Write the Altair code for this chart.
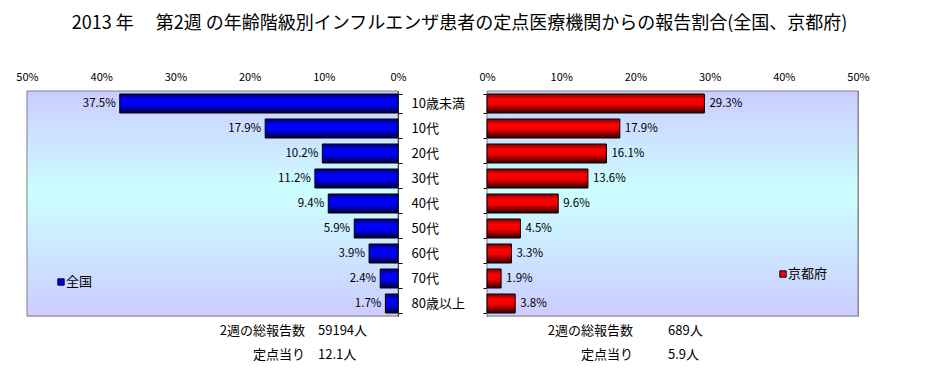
import altair as alt
import pandas as pd

categories = ["10歳未満", "10代", "20代", "30代", "40代", "50代", "60代", "70代", "80歳以上"]
national = [37.5, 17.9, 10.2, 11.2, 9.4, 5.9, 3.9, 2.4, 1.7]
kyoto = [29.3, 17.9, 16.1, 13.6, 9.6, 4.5, 3.3, 1.9, 3.8]
tick_values = [0, 10, 20, 30, 40, 50]

summary_labels = ["2週の総報告数", "定点当り"]
national_summary = ["59194人", "12.1人"]
kyoto_summary = ["689人", "5.9人"]
legend_national = "全国"
legend_kyoto = "京都府"
title_text = "2013 年　 第2週 の年齢階級別インフルエンザ患者の定点医療機関からの報告割合(全国、京都府)"

FONT = "Noto Sans CJK JP"
W, H = 371, 225

df_n = pd.DataFrame({"age": categories, "value": national})
df_k = pd.DataFrame({"age": categories, "value": kyoto})
one = pd.DataFrame({"k": [0]})

blue_grad = {
    "gradient": "linear", "x1": 0, "x2": 0, "y1": 0, "y2": 1,
    "stops": [
        {"offset": 0, "color": "#00006a"},
        {"offset": 0.3, "color": "#0000ff"},
        {"offset": 0.6, "color": "#0000f0"},
        {"offset": 1, "color": "#000030"},
    ],
}
red_grad = {
    "gradient": "linear", "x1": 0, "x2": 0, "y1": 0, "y2": 1,
    "stops": [
        {"offset": 0, "color": "#7a0000"},
        {"offset": 0.28, "color": "#ff0000"},
        {"offset": 0.55, "color": "#f00000"},
        {"offset": 1, "color": "#300000"},
    ],
}
bg_grad = {
    "gradient": "linear", "x1": 0, "x2": 0, "y1": 0, "y2": 1,
    "stops": [
        {"offset": 0, "color": "#ccccff"},
        {"offset": 0.45, "color": "#ccffff"},
        {"offset": 1, "color": "#ccccff"},
    ],
}

yscale = alt.Scale(domain=categories, paddingInner=0.24, paddingOuter=0.12)


def x_axis():
    return alt.Axis(
        orient="top", values=tick_values, labelExpr="datum.value + '%'",
        grid=True, gridColor="#999999", ticks=False, domainColor="black",
        labelFlush=False, labelPadding=9, title=None, labelFontSize=11,
        labelFont=FONT, labelColor="black",
    )


def panel(df, values_sum, legend_label, grad, left):
    base = alt.Chart(df).transform_calculate(
        label="format(datum.value, '.1f') + '%'"
    )
    if left:
        yaxis = alt.Axis(
            orient="right", title=None, tickBand="extent", tickSize=4,
            tickColor="black", domainColor="black", labelPadding=9,
            labelFontSize=13, labelFont=FONT, labelColor="black", grid=False,
        )
    else:
        yaxis = alt.Axis(
            orient="left", title=None, tickBand="extent", tickSize=4,
            tickColor="black", domainColor="black", labels=False, grid=False,
        )
    y = alt.Y("age:N", sort=categories, scale=yscale, axis=yaxis)
    x = alt.X("value:Q", scale=alt.Scale(domain=[0, 50], reverse=left, nice=False), axis=x_axis())

    bg = alt.Chart(one).mark_rect(fill=bg_grad, stroke="#808080", strokeWidth=1).encode(
        x=alt.value(0), x2=alt.value("width"), y=alt.value(0), y2=alt.value("height")
    )
    bars = base.mark_bar(fill=grad, stroke="black", strokeWidth=1).encode(x=x, y=y)
    labels = base.mark_text(
        align="right" if left else "left", dx=-4 if left else 5,
        fontSize=11.5, font=FONT, color="black",
    ).encode(x=x, y=y, text="label:N")

    lab_x = 278 if left else 146
    val_x = 291 if left else 181
    sum_labels = alt.Chart(one).mark_text(
        text=summary_labels, align="right", baseline="middle", fontSize=13,
        font=FONT, lineHeight=24, color="black",
    ).encode(x=alt.value(lab_x), y=alt.value(240))
    sum_values = alt.Chart(one).mark_text(
        text=values_sum, align="left", baseline="middle", fontSize=13,
        font=FONT, lineHeight=24, color="black",
    ).encode(x=alt.value(val_x), y=alt.value(240))

    sq_x = 34 if left else 296
    sq_y = 191 if left else 183
    leg_sq = alt.Chart(one).mark_square(
        size=40, fill=grad["stops"][1]["color"], stroke="black", strokeWidth=1, opacity=1,
    ).encode(x=alt.value(sq_x), y=alt.value(sq_y))
    leg_tx = alt.Chart(one).mark_text(
        text=legend_label, align="left", baseline="middle", fontSize=13,
        font=FONT, color="black",
    ).encode(x=alt.value(sq_x + 5), y=alt.value(sq_y))

    return alt.layer(bg, bars, labels, sum_labels, sum_values, leg_sq, leg_tx).properties(
        width=W, height=H
    )


left = panel(df_n, national_summary, legend_national, blue_grad, True)
right = panel(df_k, kyoto_summary, legend_kyoto, red_grad, False)

chart = alt.hconcat(left, right, spacing=89, bounds="flush").properties(
    title=alt.TitleParams(
        text=title_text, fontSize=18, font=FONT, fontWeight="normal",
        color="black", anchor="middle", frame="bounds", dx=17, offset=38,
        limit=900,
    ),
    padding={"left": 7, "top": 6, "right": 5, "bottom": 0},
).configure_view(
    stroke=None,
).configure(background="white")

chart.save("out.html", embed_options={"renderer": "svg", "actions": False})
